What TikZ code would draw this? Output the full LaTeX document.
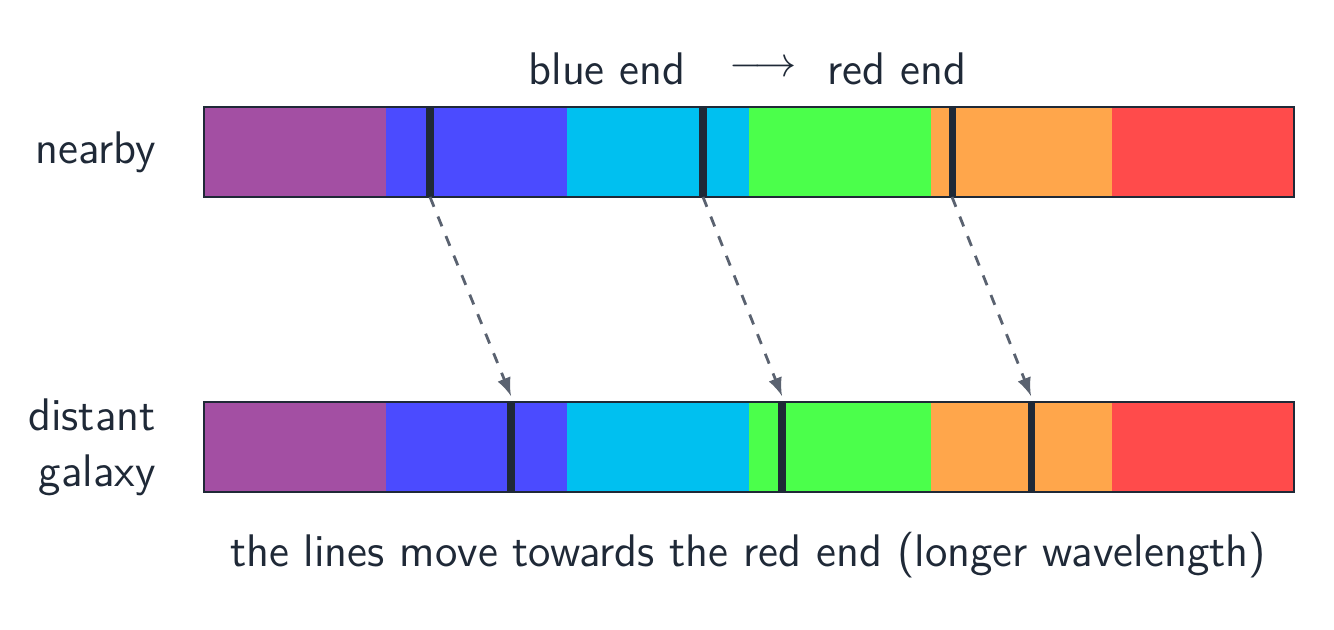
\documentclass[tikz,border=0pt]{standalone}
\usepackage{tikz}
\usetikzlibrary{calc}
\definecolor{ink}{HTML}{1F2937}
\definecolor{cpurple}{HTML}{A34FA3}
\definecolor{cblue}{HTML}{4B4BFF}
\definecolor{ccyan}{HTML}{00C0F0}
\definecolor{cgreen}{HTML}{4BFF4B}
\definecolor{corange}{HTML}{FFA64B}
\definecolor{cred}{HTML}{FF4B4B}
\definecolor{shift}{HTML}{5A6270}
\tikzset{
  lbl/.style={text=ink, font=\sffamily\fontsize{13}{16}\selectfont},
  specline/.style={draw=ink, line width=2pt},
  shiftarrow/.style={draw=shift, dashed, thick, -latex}
}
\begin{document}
\begin{tikzpicture}
  \useasboundingbox (0,0) rectangle (13.34,6.29);
  % the two spectra
  \foreach \y in {4.32,1.37}
  {
    \foreach \c [count=\i from 0] in {cpurple,cblue,ccyan,cgreen,corange,cred}
      \fill [\c] (2.04+\i*1.8167,\y) rectangle (2.04+\i*1.8167+1.8167,\y+0.9);
    \draw [ink, thick] (2.04,\y) rectangle (12.94,\y+0.9);
  }
  % absorption lines
  \foreach \a/\b [count=\n] in {4.30/5.11,7.03/7.82,9.52/10.31}
  {
    \coordinate (top\n) at (\a,4.32);
    \coordinate (bot\n) at (\b,2.27);
    \draw [specline] (\a,4.32) -- (\a,5.22);
    \draw [specline] (\b,1.37) -- (\b,2.27);
    \draw [shiftarrow] (top\n) -- ($(bot\n)+(0,0.06)$);
  }
  \node [lbl, anchor=east] (nearby) at (1.68,4.77) {nearby};
  \node [lbl, anchor=east, align=right] (distant) at (1.68,1.82) {distant\\galaxy};
  \node [lbl] (blue) at (6.07,5.6) {blue end};
  \node [lbl] (arrow) at (7.63,5.6) {$\longrightarrow$};
  \node [lbl] (red) at (8.97,5.6) {red end};
  \node [lbl] (caption) at (7.48,0.74) {the lines move towards the red end (longer wavelength)};
\end{tikzpicture}
\end{document}
